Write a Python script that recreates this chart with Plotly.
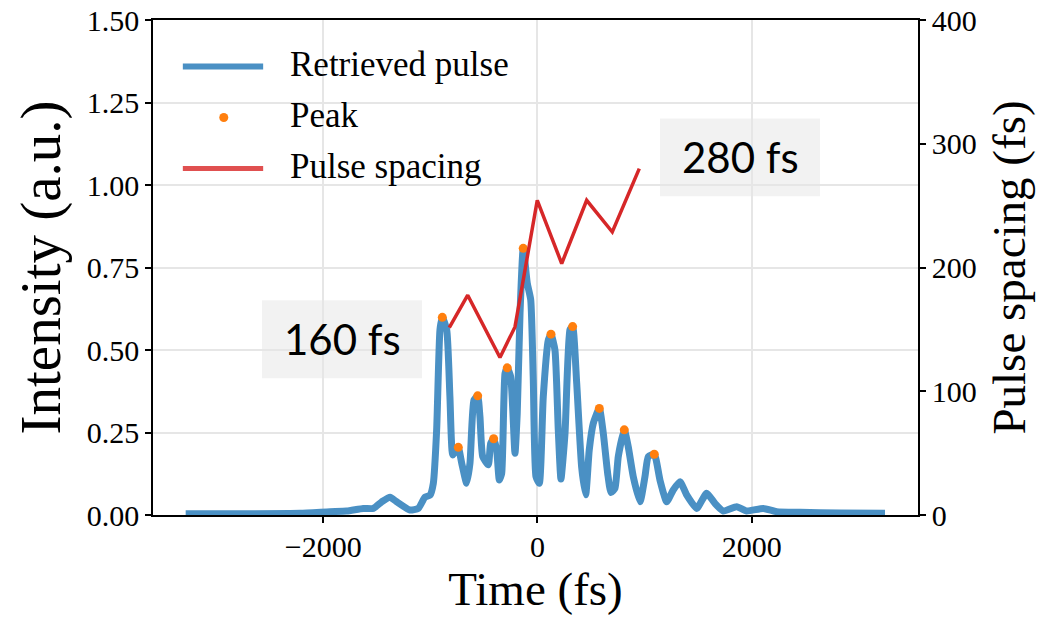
import plotly.graph_objects as go

# ---- data ----
time_fs = [-3283, -2683, -2216, -1936, -1781, -1626, -1532, -1454, -1376, -1314,
           -1190, -1112, -1050, -1003, -972, -941, -910, -888, -847, -817,
           -791, -761, -739, -707, -661, -630, -593, -558, -537, -511,
           -459, -437, -409, -381, -356, -334, -303, -282, -250, -210,
           -189, -163, -133, -95, -63, -39, -14, 17, 54, 101,
           126, 163, 194, 219, 257, 303, 328, 366, 412, 450,
           483, 521, 577, 614, 655, 686, 723, 754, 810, 847,
           894, 957, 1003, 1034, 1090, 1143, 1206, 1267, 1330, 1392,
           1486, 1579, 1656, 1734, 1859, 1952, 2107, 2232, 2450, 2823, 3243]
intensity = [0.004, 0.004, 0.005, 0.010, 0.012, 0.020, 0.020, 0.040, 0.054, 0.040,
             0.015, 0.020, 0.054, 0.060, 0.096, 0.258, 0.561, 0.599, 0.561, 0.358,
             0.182, 0.197, 0.205, 0.157, 0.096, 0.157, 0.348, 0.361, 0.298, 0.177,
             0.152, 0.217, 0.231, 0.197, 0.106, 0.126, 0.429, 0.446, 0.419, 0.187,
             0.308, 0.611, 0.808, 0.702, 0.652, 0.409, 0.116, 0.096, 0.358, 0.530,
             0.548, 0.500, 0.258, 0.109, 0.248, 0.561, 0.571, 0.399, 0.146, 0.061,
             0.197, 0.278, 0.323, 0.248, 0.126, 0.068, 0.081, 0.177, 0.258, 0.207,
             0.116, 0.040, 0.116, 0.177, 0.184, 0.106, 0.040, 0.076, 0.101, 0.061,
             0.020, 0.066, 0.035, 0.012, 0.025, 0.012, 0.020, 0.010, 0.008, 0.006, 0.005]

peak_time = [-888, -739, -558, -409, -282, -133, 126, 328, 577, 810, 1090]
peak_int = [0.599, 0.205, 0.361, 0.231, 0.446, 0.808, 0.548, 0.571, 0.323, 0.258, 0.184]

spacing_time = [-823, -651, -350, -210, -2, 226, 459, 698, 950]
spacing_fs = [151.5, 177.6, 127.3, 152.0, 254.3, 203.2, 254.3, 228.7, 279.9]

legend_labels = ["Retrieved pulse", "Peak", "Pulse spacing"]
note_labels = ["160 fs", "280 fs"]

x_ticks = [-2000, 0, 2000]
y_ticks = [0, 0.25, 0.5, 0.75, 1.0, 1.25, 1.5]
y2_ticks = [0, 100, 200, 300, 400]

BLUE = "#4a90c4"
ORANGE = "#ff7f0e"
RED = "#d62728"
SERIF = "Liberation Serif, Times New Roman, serif"

fig = go.Figure()
fig.add_trace(go.Scatter(x=time_fs, y=intensity, mode="lines", name=legend_labels[0],
                         line=dict(color=BLUE, width=7, shape="spline", smoothing=0.5),
                         showlegend=False, xaxis="x", yaxis="y"))
fig.add_trace(go.Scatter(x=peak_time, y=peak_int, mode="markers", name=legend_labels[1],
                         marker=dict(color=ORANGE, size=9), showlegend=False, xaxis="x", yaxis="y"))
fig.add_trace(go.Scatter(x=spacing_time, y=spacing_fs, mode="lines", name=legend_labels[2],
                         line=dict(color=RED, width=3.5), showlegend=False, xaxis="x", yaxis="y2"))

# manual matplotlib-style legend
leg_y = [0.906, 0.803, 0.700]
shapes = [
    dict(type="line", xref="paper", yref="paper", x0=0.039, x1=0.144, y0=leg_y[0], y1=leg_y[0],
         line=dict(color=BLUE, width=6)),
    dict(type="circle", xref="paper", yref="paper", xsizemode="pixel", ysizemode="pixel",
         xanchor=0.0925, yanchor=leg_y[1], x0=-4.5, x1=4.5, y0=-4.5, y1=4.5,
         fillcolor=ORANGE, line=dict(width=0)),
    dict(type="line", xref="paper", yref="paper", x0=0.039, x1=0.144, y0=leg_y[2], y1=leg_y[2],
         line=dict(color="#e05050", width=5)),
    # annotation boxes
    dict(type="rect", xref="paper", yref="paper", x0=(262-153)/765, x1=(422-153)/765,
         y0=(515-378)/495.5, y1=(515-300)/495.5, fillcolor="rgba(0,0,0,0.05)",
         line=dict(width=0), layer="below"),
    dict(type="rect", xref="paper", yref="paper", x0=(660-153)/765, x1=(820-153)/765,
         y0=(515-196)/495.5, y1=(515-118)/495.5, fillcolor="rgba(0,0,0,0.05)",
         line=dict(width=0), layer="below"),
]
annotations = []
for lab, yy in zip(legend_labels, leg_y):
    annotations.append(dict(text=lab, xref="paper", yref="paper", x=0.177, y=yy + 0.004,
                            xanchor="left", yanchor="middle", showarrow=False,
                            font=dict(family=SERIF, size=35, color="black")))
annotations.append(dict(text=note_labels[0], xref="paper", yref="paper",
                        x=(342-153)/765, y=(515-339)/495.5, showarrow=False,
                        xanchor="center", yanchor="middle",
                        font=dict(family="Lato, Carlito, sans-serif", size=42, color="black")))
annotations.append(dict(text=note_labels[1], xref="paper", yref="paper",
                        x=(740-153)/765, y=(515-157)/495.5, showarrow=False,
                        xanchor="center", yanchor="middle",
                        font=dict(family="Lato, Carlito, sans-serif", size=42, color="black")))

axis_common = dict(showline=True, linecolor="black", linewidth=1.5, ticks="outside",
                   ticklen=6, tickwidth=1.5, tickcolor="black", automargin=True,
                   tickfont=dict(family=SERIF, size=30, color="black"), zeroline=False)

fig.update_layout(
    width=1058, height=617,
    margin=dict(l=153, r=140, t=19.5, b=102, autoexpand=False),
    paper_bgcolor="white", plot_bgcolor="white",
    font=dict(family=SERIF, color="black"),
    xaxis=dict(range=[-3588, 3551], tickvals=x_ticks, mirror=True, showgrid=True,
               gridcolor="#e6e6e6", gridwidth=1.5, ticklabelstandoff=-2,
               title=dict(text="Time (fs)", font=dict(family=SERIF, size=47), standoff=2),
               **axis_common),
    yaxis=dict(range=[0, 1.5], tickvals=y_ticks, tickformat=".2f", mirror=True, showgrid=True,
               gridcolor="#e6e6e6", gridwidth=1.5,
               title=dict(text="Intensity (a.u.)", font=dict(family=SERIF, size=57), standoff=8),
               **axis_common),
    yaxis2=dict(range=[0, 400], tickvals=y2_ticks, overlaying="y", side="right", showgrid=False,
                title=dict(text="Pulse spacing (fs)", font=dict(family=SERIF, size=47), standoff=16),
                **axis_common),
    shapes=shapes, annotations=annotations, showlegend=False,
)

fig.write_html("out.html")
